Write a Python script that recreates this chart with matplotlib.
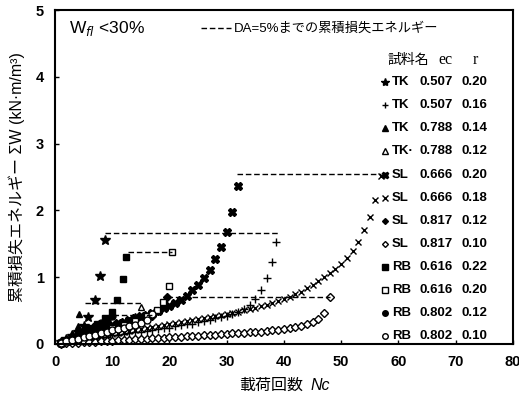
import matplotlib.pyplot as plt

plt.rcParams['font.family'] = ['Liberation Sans', 'Noto Sans CJK JP', 'DejaVu Sans']

# --- data ---
tk1_n = [1, 2, 3, 4, 5, 5.8, 7, 7.9, 8.7]
tk1_w = [0.03, 0.07, 0.12, 0.18, 0.27, 0.40, 0.66, 1.02, 1.56]

tk2_n = [1, 2, 3, 4, 5, 6, 7, 8, 9, 10, 11, 12, 13, 14, 15, 16, 17, 18, 19, 20,
         21, 22, 23, 24, 25, 26, 27, 28, 29, 30, 31, 32, 33, 34, 35, 36, 37, 38, 38.7]
tk2_w = [0.01, 0.03, 0.04, 0.05, 0.07, 0.08, 0.09, 0.10, 0.11, 0.13, 0.14, 0.15, 0.16,
         0.17, 0.18, 0.19, 0.21, 0.22, 0.23, 0.24, 0.26, 0.28, 0.29, 0.30, 0.32, 0.34,
         0.36, 0.38, 0.40, 0.42, 0.45, 0.48, 0.52, 0.58, 0.67, 0.81, 0.99, 1.23, 1.52]

tk3_n = [1, 2, 3, 4, 4.2]
tk3_w = [0.04, 0.09, 0.16, 0.27, 0.45]

tk4_n = [1, 2, 3, 4, 5, 6, 7, 8, 9, 10, 11, 12, 13, 14, 15]
tk4_w = [0.02, 0.05, 0.07, 0.10, 0.12, 0.15, 0.17, 0.20, 0.22, 0.25, 0.28, 0.31, 0.35, 0.42, 0.55]

sl1_n = [1, 2, 3, 4, 5, 6, 7, 8, 9, 10, 11, 12, 13, 14, 15, 16, 17, 18, 19, 20,
         21, 22, 23, 24, 25, 26, 27, 28, 29, 30, 31, 32]
sl1_w = [0.02, 0.05, 0.08, 0.11, 0.14, 0.17, 0.20, 0.23, 0.26, 0.28, 0.31, 0.33, 0.36,
         0.38, 0.41, 0.43, 0.46, 0.49, 0.53, 0.57, 0.61, 0.66, 0.72, 0.80, 0.88, 0.98,
         1.11, 1.27, 1.45, 1.68, 1.98, 2.36]

sl2_n = list(range(1, 58))
sl2_w = [0.01, 0.03, 0.04, 0.06, 0.07, 0.09, 0.10, 0.12, 0.13, 0.15, 0.16, 0.18, 0.19,
         0.21, 0.22, 0.24, 0.25, 0.27, 0.28, 0.30, 0.31, 0.33, 0.34, 0.36, 0.37, 0.39,
         0.40, 0.42, 0.43, 0.45, 0.46, 0.48, 0.50, 0.52, 0.54, 0.56, 0.58, 0.61, 0.64,
         0.67, 0.70, 0.74, 0.78, 0.83, 0.88, 0.94, 1.00, 1.06, 1.12, 1.19, 1.28, 1.39,
         1.53, 1.70, 1.90, 2.15, 2.52]

sl3_n = [1, 2, 3, 4, 5, 6, 7, 8, 9, 10, 11, 12, 13, 14, 15, 16, 17, 18, 19, 19.5]
sl3_w = [0.02, 0.04, 0.06, 0.08, 0.10, 0.12, 0.14, 0.16, 0.18, 0.20, 0.22, 0.24, 0.27,
         0.30, 0.33, 0.37, 0.42, 0.49, 0.58, 0.70]

sl4_n = list(range(1, 49))
sl4_w = [0.005, 0.01, 0.015, 0.02, 0.025, 0.03, 0.035, 0.04, 0.045, 0.05, 0.055, 0.06,
         0.065, 0.07, 0.075, 0.08, 0.085, 0.09, 0.095, 0.10, 0.105, 0.11, 0.115, 0.12,
         0.125, 0.13, 0.135, 0.14, 0.145, 0.15, 0.155, 0.16, 0.165, 0.17, 0.175, 0.18,
         0.19, 0.20, 0.21, 0.22, 0.23, 0.25, 0.27, 0.29, 0.32, 0.37, 0.46, 0.70]

rb1_n = [1, 2, 3, 4, 5, 6, 7.3, 8.7, 9.9, 10.8, 11.9, 12.4]
rb1_w = [0.02, 0.05, 0.09, 0.13, 0.18, 0.23, 0.29, 0.38, 0.48, 0.66, 0.97, 1.30]

rb2_n = [2, 4, 6, 8, 10, 12, 14, 16, 17.8, 18.9, 19.9, 20.5]
rb2_w = [0.04, 0.08, 0.13, 0.18, 0.23, 0.28, 0.34, 0.42, 0.51, 0.63, 0.87, 1.37]

rb3_n = [1, 2, 3, 4, 5, 6, 7, 8, 9, 10]
rb3_w = [0.03, 0.06, 0.10, 0.14, 0.18, 0.22, 0.27, 0.31, 0.36, 0.42]

rb4_n = [1, 2, 3, 4, 5, 6, 7, 8, 9, 10, 11, 12, 13, 14, 15, 16, 17]
rb4_w = [0.02, 0.04, 0.06, 0.08, 0.10, 0.12, 0.14, 0.16, 0.18, 0.20, 0.22, 0.24, 0.26,
         0.28, 0.31, 0.36, 0.45]

# horizontal dashed lines: cumulative energy up to DA=5%
da_x0 = [31.8, 8.7, 12.8, 5.2, 19.5, 10.2]
da_x1 = [57.0, 39.0, 20.5, 15.0, 48.0, 17.0]
da_w = [2.55, 1.66, 1.37, 0.61, 0.70, 0.43]

names = ['TK', 'TK', 'TK', 'TK·', 'SL', 'SL', 'SL', 'SL', 'RB', 'RB', 'RB', 'RB']
ec = ['0.507', '0.507', '0.788', '0.788', '0.666', '0.666', '0.817', '0.817',
      '0.616', '0.616', '0.802', '0.802']
r = ['0.20', '0.16', '0.14', '0.12', '0.20', '0.18', '0.12', '0.10',
     '0.22', '0.20', '0.12', '0.10']

series = [(tk1_n, tk1_w), (tk2_n, tk2_w), (tk3_n, tk3_w), (tk4_n, tk4_w),
          (sl1_n, sl1_w), (sl2_n, sl2_w), (sl3_n, sl3_w), (sl4_n, sl4_w),
          (rb1_n, rb1_w), (rb2_n, rb2_w), (rb3_n, rb3_w), (rb4_n, rb4_w)]
# marker, size, filled
styles = [('*', 7, True), ('+', 6, True), ('^', 5, True), ('^', 5, False),
          ('X', 6, True), ('x', 5, True), ('D', 4, True), ('D', 4, False),
          ('s', 5, True), ('s', 5, False), ('o', 5, True), ('o', 5, False)]

fig = plt.figure(figsize=(5.19, 4.05), dpi=100)
ax = fig.add_axes([0.106, 0.151, 0.882, 0.824])

for (n, w), (m, ms, filled) in zip(series, styles):
    ax.plot(n, w, linestyle='none', marker=m, markersize=ms,
            markerfacecolor='black' if filled else 'white',
            markeredgecolor='black', markeredgewidth=1.0, clip_on=False)

for x0, x1, y in zip(da_x0, da_x1, da_w):
    ax.plot([x0, x1], [y, y], color='black', linestyle=(0, (4, 2)), linewidth=1.0)

ax.set_xlim(0, 80)
ax.set_ylim(0, 5)
ax.set_xticks(range(0, 81, 10))
ax.set_yticks(range(0, 6))
ax.tick_params(direction='in', length=3, width=1, labelsize=10.5, pad=8)
for lab in ax.get_xticklabels() + ax.get_yticklabels():
    lab.set_fontweight('bold')
for s in ax.spines.values():
    s.set_linewidth(1.5)

# axis titles (kept out of mathtext so the CJK fallback works)
fig.text(0.584, 0.049, '載荷回数', fontsize=11.5, ha='right', va='center')
fig.text(0.598, 0.049, 'Nc', fontsize=11.5, style='italic', ha='left', va='center')
ax.set_ylabel('累積損失エネルギー ΣW (kN·m/m³)', fontsize=11.5, labelpad=8)

ax.text(0.03, 0.945, 'W$_{fl}$ <30%', transform=ax.transAxes, fontsize=12.5,
        va='center', ha='left')
ax.plot([0.32, 0.385], [0.945, 0.945], transform=ax.transAxes, color='black',
        linestyle=(0, (4, 2)), linewidth=1.0)
ax.text(0.39, 0.945, 'DA=5%までの累積損失エネルギー', transform=ax.transAxes,
        fontsize=9.5, va='center', ha='left')

# specimen table
ax.text(0.727, 0.850, '試料名', transform=ax.transAxes, fontsize=10, va='center')
ax.text(0.838, 0.850, 'ec', transform=ax.transAxes, fontsize=11.5, va='center',
        family='Liberation Serif')
ax.text(0.912, 0.850, 'r', transform=ax.transAxes, fontsize=11.5, va='center',
        family='Liberation Serif')
for i, (m, ms, filled) in enumerate(styles):
    yy = 0.784 - i * 0.0692
    ax.plot([0.72], [yy], transform=ax.transAxes, linestyle='none', marker=m,
            markersize=ms - 1, markerfacecolor='black' if filled else 'white',
            markeredgecolor='black', clip_on=False)
    ax.text(0.736, yy, names[i], transform=ax.transAxes, fontsize=9.5,
            fontweight='bold', va='center')
    ax.text(0.797, yy, ec[i], transform=ax.transAxes, fontsize=9.5,
            fontweight='bold', va='center')
    ax.text(0.888, yy, r[i], transform=ax.transAxes, fontsize=9.5,
            fontweight='bold', va='center')

fig.savefig('out.png', dpi=100)
